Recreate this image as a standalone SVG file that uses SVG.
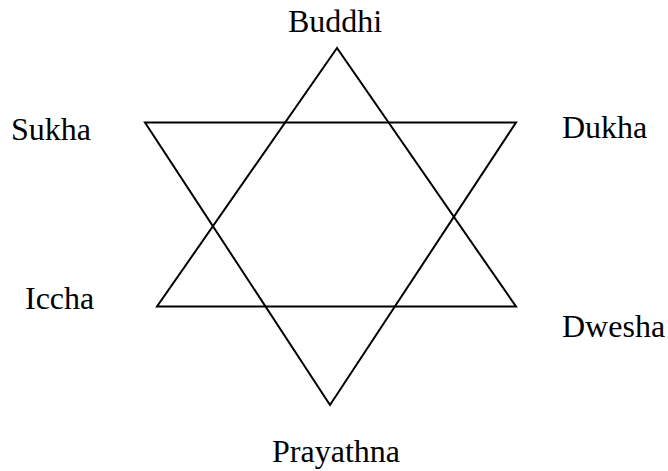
<svg xmlns="http://www.w3.org/2000/svg" width="668" height="471" viewBox="0 0 668 471">
<style>
.lbl{font-family:"Liberation Serif","Times New Roman",serif;font-size:32px;fill:#000}
.tri{fill:none;stroke:#000;stroke-width:2;stroke-linejoin:miter}
</style>
<rect width="668" height="471" fill="#fff"/>
<g id="connectors">
<polygon class="tri" points="337,48 157,306.5 516,306.5"/>
<polygon class="tri" points="145,122.5 516,122.5 330,405"/>
</g>
<g id="buddhi"><text class="lbl" x="335" y="32" text-anchor="middle">Buddhi</text></g>
<g id="sukha"><text class="lbl" x="11" y="140">Sukha</text></g>
<g id="dukha"><text class="lbl" x="562" y="138">Dukha</text></g>
<g id="iccha"><text class="lbl" x="25" y="309">Iccha</text></g>
<g id="dwesha"><text class="lbl" x="562" y="337">Dwesha</text></g>
<g id="prayathna"><text class="lbl" x="336" y="462" text-anchor="middle">Prayathna</text></g>
</svg>
